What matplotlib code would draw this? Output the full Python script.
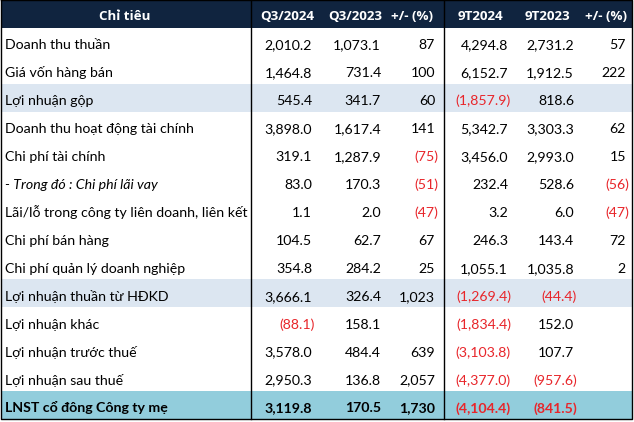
import matplotlib
matplotlib.use("Agg")
import matplotlib.pyplot as plt
from matplotlib.patches import Rectangle

plt.rcParams['font.family'] = ['Lato', 'DejaVu Sans']

headers = ["Chỉ tiêu", "Q3/2024", "Q3/2023", "+/- (%)", "9T2024", "9T2023", "+/- (%)"]
labels = [
    "Doanh thu thuần",
    "Giá vốn hàng bán",
    "Lợi nhuận gộp",
    "Doanh thu hoạt động tài chính",
    "Chi phí tài chính",
    "- Trong đó : Chi phí lãi vay",
    "Lãi/lỗ trong công ty liên doanh, liên kết",
    "Chi phí bán hàng",
    "Chi phí quản lý doanh nghiệp",
    "Lợi nhuận thuần từ HĐKD",
    "Lợi nhuận khác",
    "Lợi nhuận trước thuế",
    "Lợi nhuận sau thuế",
    "LNST cổ đông Công ty mẹ",
]
q3_2024 = [2010.2, 1464.8, 545.4, 3898.0, 319.1, 83.0, 1.1, 104.5, 354.8, 3666.1, -88.1, 3578.0, 2950.3, 3119.8]
q3_2023 = [1073.1, 731.4, 341.7, 1617.4, 1287.9, 170.3, 2.0, 62.7, 284.2, 326.4, 158.1, 484.4, 136.8, 170.5]
q3_chg = [87, 100, 60, 141, -75, -51, -47, 67, 25, 1023, None, 639, 2057, 1730]
t9_2024 = [4294.8, 6152.7, -1857.9, 5342.7, 3456.0, 232.4, 3.2, 246.3, 1055.1, -1269.4, -1834.4, -3103.8, -4377.0, -4104.4]
t9_2023 = [2731.2, 1912.5, 818.6, 3303.3, 2993.0, 528.6, 6.0, 143.4, 1035.8, -44.4, 152.0, 107.7, -957.6, -841.5]
t9_chg = [57, 222, None, 62, 15, -56, -47, 72, 2, None, None, None, None, None]

highlight_rows = [2, 9]
italic_rows = [5]
total_row = 13

W, H = 634, 422
fig = plt.figure(figsize=(W / 100, H / 100), dpi=100)
ax = fig.add_axes([0, 0, 1, 1])
ax.set_xlim(0, W)
ax.set_ylim(H, 0)
ax.axis('off')

HEADER_BG = '#10243f'
HL_BG = '#dce6f1'
TOTAL_BG = '#92cddc'
RED = '#e8262b'

left, right = 1, 632
top, bottom = 0, 419
row_h = (bottom - top) / 15.0
fs = 10.2

header_centers = [125, 287, 355, 412, 480, 547, 606]
num_right = [312, 381, 435, 508, 574, 626]


def fmt(v, dec):
    if v is None:
        return "", False
    s = f"{abs(v):,.{dec}f}"
    if v < 0:
        return f"({s})", True
    return s, False


# header
ax.add_patch(Rectangle((left, top), right - left, row_h, facecolor=HEADER_BG, edgecolor='none'))
for h, cx in zip(headers, header_centers):
    ax.text(cx, top + row_h - 7.5, h, ha='center', va='baseline', color='white',
            fontsize=9.6, fontweight='bold', family=['Open Sans', 'DejaVu Sans'])

cols = [q3_2024, q3_2023, q3_chg, t9_2024, t9_2023, t9_chg]
decs = [1, 1, 0, 1, 1, 0]
for i, lab in enumerate(labels):
    y0 = top + row_h * (i + 1)
    if i in highlight_rows:
        ax.add_patch(Rectangle((left, y0), right - left, row_h, facecolor=HL_BG, edgecolor='none'))
    if i == total_row:
        ax.add_patch(Rectangle((left, y0), right - left, row_h, facecolor=TOTAL_BG, edgecolor='none'))
    weight = 'bold' if i == total_row else 'normal'
    style = 'italic' if i in italic_rows else 'normal'
    yb = y0 + row_h - 6.5
    ax.text(5, yb, lab, ha='left', va='baseline', fontsize=fs, fontweight=weight,
            fontstyle=style, color='black')
    for c, (vals, d) in enumerate(zip(cols, decs)):
        s, neg = fmt(vals[i], d)
        if not s:
            continue
        xr = num_right[c] + (3 if neg else 0)
        ax.text(xr, yb, s, ha='right', va='baseline', fontsize=fs, fontweight=weight,
                color=RED if neg else 'black')

# lines
lw = 1.0
ax.plot([left, right, right, left, left], [top, top, bottom, bottom, top], color='black', lw=lw)
for x in [250.5, 444]:
    ax.plot([x, x], [top, bottom], color='black', lw=lw)

fig.savefig('out.png', dpi=100)
